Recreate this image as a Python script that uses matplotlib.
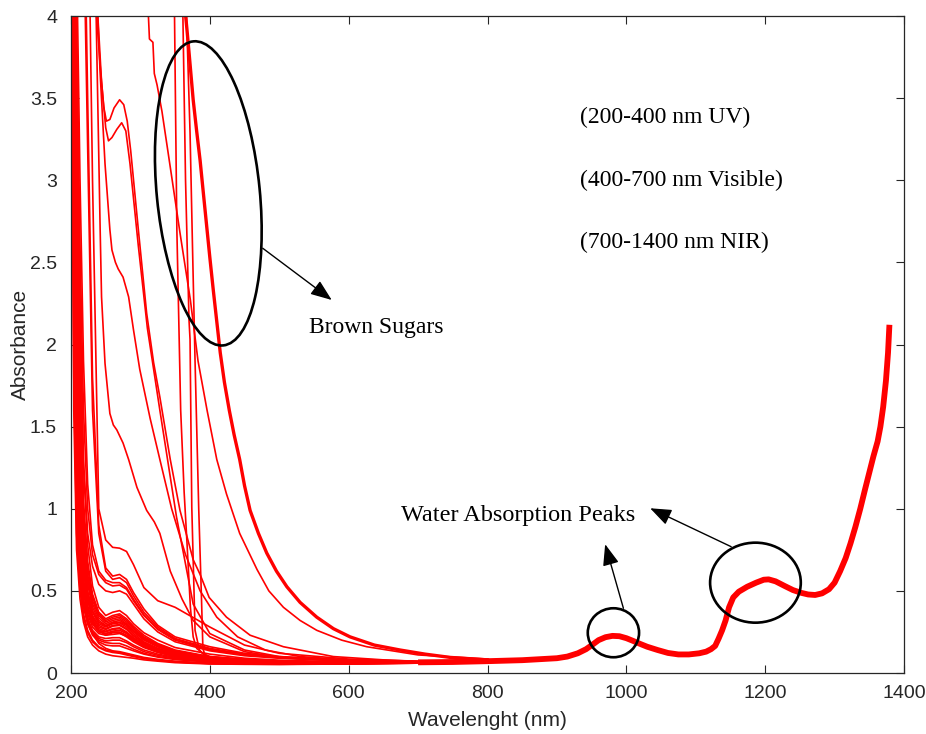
import matplotlib

matplotlib.use("Agg")
import matplotlib.pyplot as plt
from matplotlib.patches import Ellipse
from matplotlib.transforms import ScaledTranslation

# shared wavelength grid (nm) for the bulk of the UV/Vis spectra
wl_grid = [200, 204, 208, 213, 218, 224, 231, 240, 250, 260, 270, 280, 290,
           305, 325, 350, 400, 450, 500, 600, 700]

# clear syrups: steep UV edge, small band near 270 nm
low_group = [
    [4.6, 1.6, 0.75, 0.45, 0.31, 0.22, 0.17, 0.135, 0.115, 0.105, 0.10, 0.095, 0.09, 0.08, 0.072, 0.063, 0.055, 0.053, 0.052, 0.055, 0.06],
    [4.8, 2.0, 0.95, 0.55, 0.36, 0.26, 0.2, 0.16, 0.14, 0.13, 0.125, 0.115, 0.105, 0.09, 0.078, 0.068, 0.058, 0.055, 0.054, 0.056, 0.06],
    [5.0, 2.3, 1.1, 0.6, 0.4, 0.3, 0.24, 0.2, 0.185, 0.18, 0.18, 0.165, 0.145, 0.12, 0.1, 0.085, 0.068, 0.062, 0.058, 0.058, 0.062],
    [5.0, 2.6, 1.25, 0.68, 0.45, 0.33, 0.26, 0.22, 0.21, 0.215, 0.215, 0.195, 0.17, 0.14, 0.115, 0.095, 0.075, 0.066, 0.06, 0.058, 0.062],
    [5.2, 3.0, 1.4, 0.75, 0.5, 0.36, 0.28, 0.24, 0.23, 0.245, 0.245, 0.22, 0.19, 0.155, 0.125, 0.1, 0.078, 0.068, 0.062, 0.06, 0.063],
    [5.2, 3.3, 1.6, 0.85, 0.55, 0.4, 0.31, 0.26, 0.25, 0.265, 0.27, 0.245, 0.21, 0.17, 0.135, 0.108, 0.082, 0.07, 0.064, 0.06, 0.063],
    [5.3, 3.6, 1.9, 1.0, 0.62, 0.44, 0.34, 0.28, 0.265, 0.285, 0.29, 0.265, 0.225, 0.18, 0.145, 0.115, 0.085, 0.073, 0.066, 0.061, 0.064],
    [5.4, 4.0, 2.2, 1.15, 0.7, 0.48, 0.37, 0.3, 0.28, 0.30, 0.305, 0.28, 0.24, 0.19, 0.15, 0.12, 0.09, 0.076, 0.068, 0.062, 0.064],
    [5.5, 4.3, 2.6, 1.35, 0.8, 0.54, 0.4, 0.32, 0.29, 0.31, 0.32, 0.295, 0.255, 0.205, 0.16, 0.125, 0.092, 0.078, 0.07, 0.063, 0.065],
    [5.6, 4.6, 3.0, 1.6, 0.9, 0.6, 0.44, 0.35, 0.31, 0.33, 0.34, 0.31, 0.27, 0.215, 0.17, 0.13, 0.095, 0.08, 0.072, 0.064, 0.065],
    [5.6, 4.8, 3.4, 1.9, 1.05, 0.68, 0.48, 0.37, 0.33, 0.35, 0.36, 0.33, 0.285, 0.23, 0.18, 0.14, 0.1, 0.084, 0.074, 0.065, 0.066],
    [5.7, 5.0, 3.8, 2.3, 1.25, 0.78, 0.53, 0.4, 0.35, 0.37, 0.38, 0.35, 0.30, 0.245, 0.2, 0.155, 0.115, 0.09, 0.078, 0.066, 0.066],
    [5.0, 2.8, 1.5, 0.8, 0.5, 0.34, 0.24, 0.18, 0.15, 0.135, 0.13, 0.12, 0.11, 0.095, 0.083, 0.072, 0.06, 0.057, 0.055, 0.057, 0.061],
    [5.3, 3.8, 2.0, 1.05, 0.65, 0.45, 0.33, 0.26, 0.23, 0.235, 0.24, 0.225, 0.2, 0.165, 0.14, 0.115, 0.09, 0.077, 0.07, 0.063, 0.065],
    [5.1, 2.9, 1.5, 0.82, 0.53, 0.38, 0.3, 0.25, 0.24, 0.255, 0.26, 0.24, 0.205, 0.165, 0.13, 0.1, 0.076, 0.066, 0.061, 0.059, 0.062],
    [5.4, 4.2, 2.4, 1.25, 0.74, 0.5, 0.38, 0.31, 0.285, 0.305, 0.31, 0.29, 0.25, 0.2, 0.16, 0.126, 0.093, 0.079, 0.07, 0.063, 0.065],
    [5.3, 3.4, 1.7, 0.9, 0.57, 0.41, 0.32, 0.27, 0.255, 0.27, 0.275, 0.25, 0.215, 0.175, 0.14, 0.11, 0.083, 0.071, 0.065, 0.061, 0.064],
    [5.5, 4.5, 2.8, 1.45, 0.85, 0.57, 0.42, 0.335, 0.3, 0.32, 0.33, 0.3, 0.26, 0.21, 0.165, 0.128, 0.094, 0.079, 0.071, 0.064, 0.065],
    [4.9, 2.4, 1.2, 0.66, 0.43, 0.31, 0.25, 0.21, 0.195, 0.2, 0.2, 0.185, 0.16, 0.13, 0.108, 0.09, 0.072, 0.064, 0.059, 0.058, 0.062],
    [5.1, 3.1, 1.55, 0.84, 0.54, 0.39, 0.3, 0.255, 0.24, 0.25, 0.25, 0.23, 0.2, 0.16, 0.128, 0.102, 0.079, 0.068, 0.062, 0.06, 0.063],
    [5.6, 4.7, 3.2, 1.75, 0.98, 0.64, 0.46, 0.36, 0.32, 0.34, 0.35, 0.32, 0.275, 0.22, 0.175, 0.135, 0.098, 0.082, 0.073, 0.065, 0.066],
    [4.7, 1.8, 0.85, 0.5, 0.34, 0.245, 0.19, 0.155, 0.135, 0.125, 0.12, 0.11, 0.1, 0.088, 0.077, 0.067, 0.057, 0.054, 0.053, 0.056, 0.06],
    [5.4, 3.9, 2.1, 1.1, 0.67, 0.46, 0.35, 0.29, 0.27, 0.29, 0.295, 0.27, 0.23, 0.185, 0.148, 0.118, 0.088, 0.075, 0.067, 0.062, 0.064],
    [5.0, 2.5, 1.2, 0.65, 0.42, 0.3, 0.23, 0.19, 0.17, 0.165, 0.165, 0.15, 0.135, 0.115, 0.097, 0.082, 0.066, 0.06, 0.057, 0.057, 0.061],
]

# light syrups with a stronger 270 nm band
mid_group = [
    [6.0, 6.0, 6.0, 6.0, 4.6, 3.2, 1.6, 0.85, 0.62, 0.57, 0.58, 0.55, 0.47, 0.37, 0.28, 0.21, 0.15, 0.115, 0.095, 0.075, 0.07],
    [6.0, 6.0, 6.0, 6.0, 5.0, 3.5, 1.8, 0.9, 0.64, 0.59, 0.6, 0.57, 0.49, 0.39, 0.29, 0.22, 0.16, 0.12, 0.1, 0.077, 0.07],
    [5.8, 5.2, 4.0, 2.6, 1.6, 1.0, 0.72, 0.6, 0.55, 0.53, 0.535, 0.51, 0.44, 0.35, 0.265, 0.2, 0.14, 0.11, 0.092, 0.073, 0.068],
    [5.8, 5.4, 4.4, 3.0, 1.9, 1.15, 0.78, 0.62, 0.565, 0.55, 0.55, 0.52, 0.45, 0.355, 0.27, 0.205, 0.145, 0.112, 0.094, 0.074, 0.069],
    [5.7, 5.0, 3.6, 2.2, 1.3, 0.85, 0.65, 0.54, 0.5, 0.49, 0.5, 0.48, 0.42, 0.33, 0.25, 0.19, 0.135, 0.105, 0.09, 0.072, 0.068],
    [6.0, 6.0, 6.0, 6.0, 6.0, 5.0, 3.0, 1.0, 0.81, 0.765, 0.76, 0.74, 0.66, 0.52, 0.44, 0.40, 0.28, 0.17, 0.12, 0.085, 0.072],
]

# darker samples, each read on its own wavelengths
band_hi_wl = [236, 242, 247, 251, 256, 262, 270, 276, 281, 286, 297, 309, 319, 328, 343, 357, 376, 386, 399, 424, 458, 506, 578, 650, 700]
band_hi_abs = [4.05, 3.7, 3.45, 3.36, 3.37, 3.44, 3.49, 3.46, 3.36, 3.18, 2.70, 2.19, 1.89, 1.68, 1.30, 0.99, 0.69, 0.6, 0.46, 0.34, 0.23, 0.16, 0.10, 0.08, 0.07]

band_lo_wl = [238, 244, 250, 254, 259, 266, 273, 279, 285, 297, 310, 328, 352, 376, 400, 450, 500, 600, 700]
band_lo_abs = [4.05, 3.6, 3.32, 3.24, 3.26, 3.31, 3.35, 3.30, 3.10, 2.6, 2.1, 1.6, 0.95, 0.42, 0.24, 0.14, 0.1, 0.075, 0.068]

shoulder_hi_wl = [238, 242, 249, 256, 259, 264, 268, 275, 283, 290, 299, 314, 328, 345, 365, 386, 410, 440, 480, 530, 600, 700]
shoulder_hi_abs = [4.05, 3.65, 3.1, 2.70, 2.575, 2.5, 2.46, 2.41, 2.29, 2.09, 1.85, 1.55, 1.30, 1.0, 0.72, 0.5, 0.34, 0.22, 0.14, 0.1, 0.08, 0.068]

shoulder_lo_wl = [236, 242, 244, 249, 256, 261, 266, 275, 283, 295, 309, 320, 328, 343, 360, 376, 400, 450, 500, 600, 700]
shoulder_lo_abs = [4.05, 2.70, 2.29, 1.885, 1.58, 1.51, 1.48, 1.40, 1.30, 1.13, 0.99, 0.92, 0.85, 0.62, 0.45, 0.32, 0.22, 0.13, 0.095, 0.072, 0.066]

brown_a_wl = [311, 313, 318, 320, 324, 331, 343, 357, 372, 383, 396, 410, 424, 443, 468, 485, 506, 530, 554, 590, 626, 700, 800]
brown_a_abs = [4.05, 3.86, 3.84, 3.65, 3.58, 3.42, 3.08, 2.68, 2.27, 1.9, 1.6, 1.30, 1.09, 0.85, 0.63, 0.5, 0.40, 0.32, 0.26, 0.2, 0.16, 0.11, 0.085]

brown_b_wl = [364, 367, 370, 376, 381, 386, 390, 395, 400, 405, 410, 415, 421, 428, 435, 443,
              450, 458, 470, 482, 496, 511, 530, 554, 578, 602, 637, 674, 710, 746, 800]
brown_b_abs = [4.05, 3.92, 3.78, 3.49, 3.3, 3.12, 2.95, 2.74, 2.53, 2.33, 2.14, 1.95, 1.77, 1.6,
               1.45, 1.30, 1.14, 0.99, 0.85, 0.73, 0.62, 0.525, 0.43, 0.34, 0.27, 0.22, 0.17,
               0.14, 0.115, 0.095, 0.08]

# saturated samples with an almost vertical cut-off
cutoff_a_wl = [349, 352.5, 358, 363, 367, 372, 376, 381, 390, 400, 450, 500, 600, 700]
cutoff_a_abs = [4.05, 2.7, 1.6, 1.1, 0.8, 0.4, 0.22, 0.15, 0.12, 0.1, 0.08, 0.07, 0.065, 0.065]

cutoff_b_wl = [361, 365, 370, 371.5, 374, 378.7, 385, 398, 450, 600, 700]
cutoff_b_abs = [4.05, 3.0, 2.15, 2.03, 1.01, 0.26, 0.14, 0.08, 0.065, 0.06, 0.063]

cutoff_c_wl = [366, 371.5, 375, 378.7, 384, 388, 390, 395, 450, 600, 700]
cutoff_c_abs = [4.05, 3.29, 2.6, 1.9, 1.0, 0.45, 0.15, 0.08, 0.065, 0.06, 0.063]

# NIR water bands, common to all samples
nir_wl = [700, 750, 800, 850, 900, 915, 930, 942, 952, 960, 970, 980, 990, 1000, 1010,
          1020, 1030, 1045, 1060, 1075, 1090, 1105, 1115, 1122, 1128, 1133, 1138, 1143,
          1148, 1154, 1162, 1174, 1187, 1198, 1205, 1215, 1228, 1240, 1252, 1262, 1272,
          1282, 1292, 1300, 1308, 1316, 1323, 1330, 1337, 1344, 1350, 1356, 1362, 1366,
          1370, 1374, 1377, 1379]
nir_abs = [0.065, 0.067, 0.072, 0.078, 0.09, 0.10, 0.12, 0.145, 0.175, 0.2, 0.218, 0.226,
           0.224, 0.212, 0.195, 0.177, 0.16, 0.14, 0.122, 0.113, 0.113, 0.12, 0.13, 0.145,
           0.165, 0.21, 0.26, 0.32, 0.40, 0.46, 0.495, 0.525, 0.55, 0.568, 0.57, 0.558,
           0.53, 0.505, 0.488, 0.478, 0.475, 0.485, 0.51, 0.55, 0.62, 0.70, 0.79, 0.89,
           1.0, 1.12, 1.22, 1.32, 1.41, 1.5, 1.62, 1.78, 1.95, 2.12]

x_ticks = [200, 400, 600, 800, 1000, 1200, 1400]
y_ticks = [0, 0.5, 1, 1.5, 2, 2.5, 3, 3.5, 4]
y_tick_labels = ["0", "0.5", "1", "1.5", "2", "2.5", "3", "3.5", "4"]

RED = "#ff0000"
INK = "#262626"
SERIF = "Liberation Serif"
SANS = "Liberation Sans"

fig = plt.figure(figsize=(9.26, 7.34), dpi=100)
ax = fig.add_axes([71 / 926, 1 - 673 / 734, 833 / 926, 657 / 734])

for spectrum in low_group + mid_group:
    ax.plot(wl_grid, spectrum, color=RED, linewidth=1.2)

for wl, absorb in [(band_hi_wl, band_hi_abs), (band_lo_wl, band_lo_abs),
                   (shoulder_hi_wl, shoulder_hi_abs), (shoulder_lo_wl, shoulder_lo_abs),
                   (brown_a_wl, brown_a_abs), (cutoff_a_wl, cutoff_a_abs),
                   (cutoff_b_wl, cutoff_b_abs), (cutoff_c_wl, cutoff_c_abs)]:
    ax.plot(wl, absorb, color=RED, linewidth=1.2)
ax.plot(brown_b_wl, brown_b_abs, color=RED, linewidth=2.4)
ax.plot(nir_wl, nir_abs, color=RED, linewidth=4.2, solid_capstyle="butt")

ax.set_xlim(200, 1400)
ax.set_ylim(0, 4)
ax.set_xticks(x_ticks)
ax.set_yticks(y_ticks)
ax.set_yticklabels(y_tick_labels)
ax.tick_params(direction="in", top=True, right=True, length=6, width=0.8,
               colors=INK, labelsize=14)
ax.tick_params(axis="x", pad=9)
ax.tick_params(axis="y", pad=10)
for spine in ax.spines.values():
    spine.set_color(INK)
    spine.set_linewidth(0.9)
for label in ax.get_xticklabels() + ax.get_yticklabels():
    label.set_family(SANS)
ax.set_xlabel("Wavelenght (nm)", fontsize=15, family=SANS, color=INK, labelpad=6)
ax.set_ylabel("Absorbance", fontsize=15, family=SANS, color=INK, labelpad=0)


def ring(x, y, w_in, h_in, angle=0.0):
    # ellipse sized in inches, anchored at a data point
    trans = fig.dpi_scale_trans + ScaledTranslation(x, y, ax.transData)
    ax.add_patch(Ellipse((0, 0), w_in, h_in, angle=angle, transform=trans,
                         fill=False, edgecolor="black", linewidth=1.9, zorder=5))


ring(397.8, 2.92, 1.03, 3.055, angle=5.6)
ring(981.4, 0.245, 0.513, 0.49)
ring(1186, 0.55, 0.907, 0.80)

arrow = dict(arrowstyle="-|>,head_length=0.65,head_width=0.25", mutation_scale=20,
             color="black", linewidth=1.0, shrinkA=0, shrinkB=0)
ax.annotate("", xy=(575.6, 2.271), xytext=(476.2, 2.586), arrowprops=arrow, zorder=6)
ax.annotate("", xy=(969.5, 0.784), xytext=(995.8, 0.394), arrowprops=arrow, zorder=6)
ax.annotate("", xy=(1034.3, 1.003), xytext=(1151, 0.769), arrowprops=arrow, zorder=6)

ax.text(542.9, 2.07, "Brown Sugars", family=SERIF, fontsize=17, va="baseline")
ax.text(675.5, 0.925, "Water Absorption Peaks", family=SERIF, fontsize=17.5, va="baseline")
ax.text(933.4, 3.38, "(200-400 nm UV)", family=SERIF, fontsize=17, va="center")
ax.text(933.4, 3.0, "(400-700 nm Visible)", family=SERIF, fontsize=17, va="center")
ax.text(933.4, 2.62, "(700-1400 nm NIR)", family=SERIF, fontsize=17, va="center")

fig.savefig("out.png", dpi=100)
